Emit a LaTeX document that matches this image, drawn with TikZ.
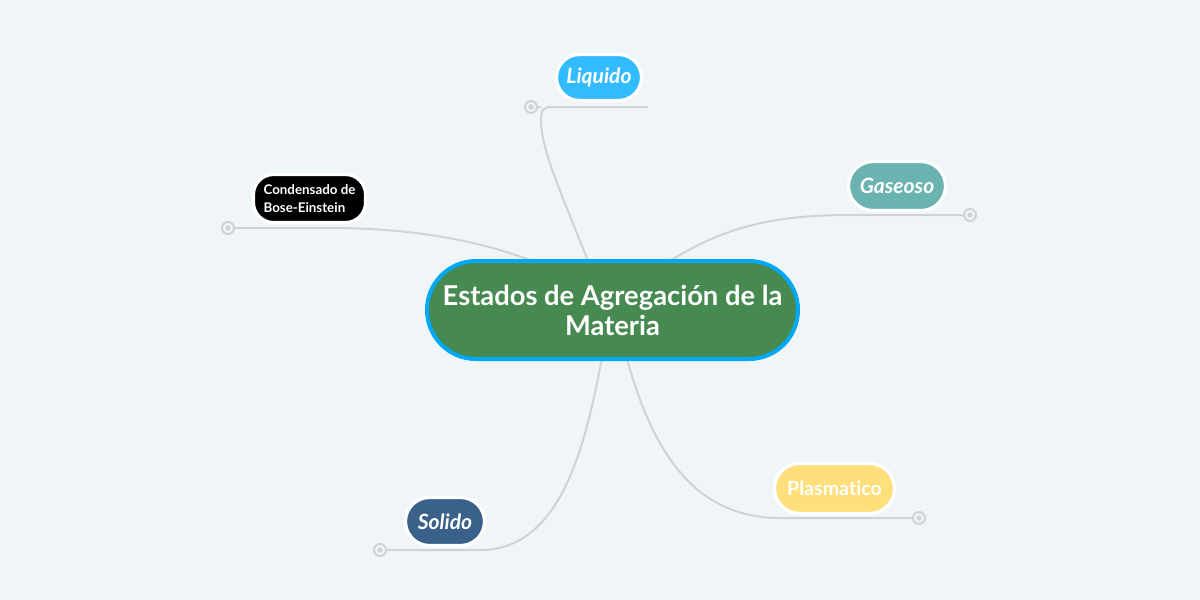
\documentclass[tikz,border=0pt]{standalone}
\usepackage{fontspec}
\setmainfont{Lato}[Ligatures=NoCommon]
\newcommand\pxu{0.75pt}
\definecolor{bgc}{HTML}{F0F5F8}
\definecolor{linec}{HTML}{CFD3D7}
\definecolor{centfill}{HTML}{468A52}
\definecolor{centdraw}{HTML}{00A8F5}
\definecolor{liqc}{HTML}{33BBFF}
\definecolor{gasc}{HTML}{6BB3B1}
\definecolor{plasc}{HTML}{FFDF7C}
\definecolor{solc}{HTML}{3A6189}
\tikzset{
  conn/.style={draw=linec, line width=1.5pt},
  knob/.style={circle, draw=linec, line width=1.5pt, fill=bgc, minimum size=12*\pxu, inner sep=0pt,
    path picture={\fill[linec] (path picture bounding box.center) circle (2.7*\pxu);}},
  topic/.style={draw=white, line width=2.4pt, text=white, inner sep=0pt, align=center,
    font=\fontsize{15.8}{18}\selectfont\bfseries\itshape},
}
\begin{document}
\begin{tikzpicture}[x=0.75pt,y=-0.75pt]
\path[fill=bgc] (0,0) rectangle (1200,600);

% knobs
\node[knob] (kliq) at (531,107) {};
\node[knob] (kcond) at (228,228) {};
\node[knob] (kgas) at (970,215) {};
\node[knob] (kplas) at (919,518) {};
\node[knob] (ksol) at (380,550) {};

% connector anchor coordinates
\coordinate (sliq) at (590,266);
\coordinate (scond) at (545,266);
\coordinate (sgas) at (662,266);
\coordinate (splas) at (625,352);
\coordinate (ssol) at (603,352);
\coordinate (eliq) at (648,107);

% connectors
\draw[conn] (sliq) .. controls (562,195) and (541,150) .. (541,120)
  .. controls (541,110) and (543,107) .. (552,107) -- (eliq);
\draw[conn] (kliq) -- (541,107);
\draw[conn] (kcond) -- (330,228) .. controls (420,228) and (490,243) .. (scond);
\draw[conn] (sgas) .. controls (720,228) and (770,215) .. (850,215) -- (kgas);
\draw[conn] (splas) .. controls (650,445) and (690,518) .. (780,518) -- (kplas);
\draw[conn] (ssol) .. controls (585,450) and (560,550) .. (480,550) -- (ksol);

% central node
\node[draw=centdraw, fill=centfill, line width=3pt, text=white, align=center,
  minimum width=371*\pxu, minimum height=98*\pxu, rounded corners=49*\pxu, inner sep=0pt,
  font=\fontsize{20.5}{22.5}\selectfont\bfseries] (c) at (612.5,310)
  {Estados de Agregación de la\\Materia};

% topics
\node[topic, fill=liqc, minimum width=85*\pxu, minimum height=46*\pxu, rounded corners=23*\pxu] (liq) at (599,77.5) {Liquido};
\node[topic, fill=gasc, minimum width=97*\pxu, minimum height=49*\pxu, rounded corners=24.5*\pxu] (gas) at (897,186) {Gaseoso};
\node[topic, fill=plasc, minimum width=120*\pxu, minimum height=50*\pxu, rounded corners=25*\pxu, font=\fontsize{14.7}{16}\selectfont\bfseries] (plas) at (834.5,488.5) {Plasmatico};
\node[topic, fill=solc, minimum width=79*\pxu, minimum height=48*\pxu, rounded corners=24*\pxu] (sol) at (445,521.5) {Solido};
\node[topic, fill=black, minimum width=112*\pxu, minimum height=48*\pxu, rounded corners=20*\pxu, align=left,
  font=\fontsize{10}{13}\selectfont\bfseries] (cond) at (309.5,198.5) {Condensado de\\Bose-Einstein};
\end{tikzpicture}
\end{document}
